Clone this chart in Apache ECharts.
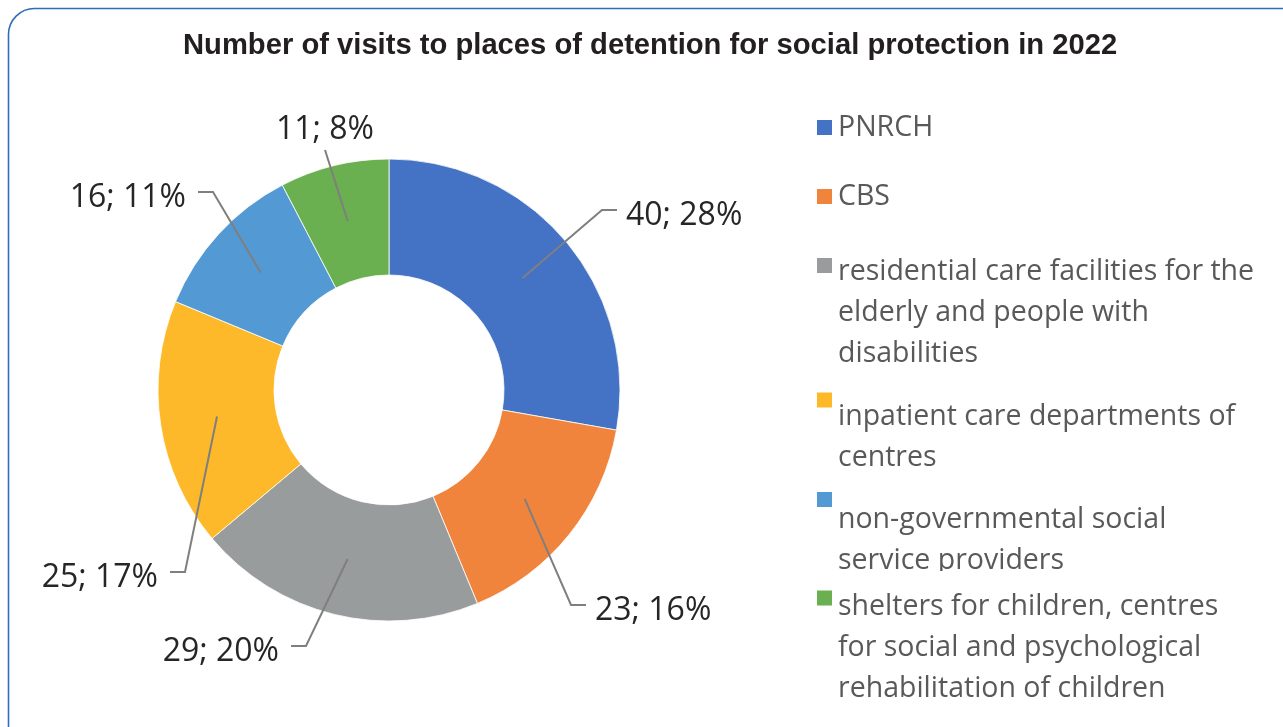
<!DOCTYPE html>
<html>
<head>
<meta charset="utf-8">
<script src="https://cdn.jsdelivr.net/npm/echarts@6/dist/echarts.min.js"></script>
<style>
  html, body { margin: 0; padding: 0; background: #ffffff; }
  #chart { width: 1283px; height: 727px; }
</style>
</head>
<body>
<div id="chart"></div>
<script>
// ---- data ----
const titleText = 'Number of visits to places of detention for social protection in 2022';
const categories = [
  'PNRCH',
  'CBS',
  'residential care facilities for the elderly and people with disabilities',
  'inpatient care departments of centres',
  'non-governmental social service providers',
  'shelters for children, centres for social and psychological rehabilitation of children'
];
const visits = [40, 23, 29, 25, 16, 11];
// legend text broken into lines
const legendLines = [
  ['PNRCH'],
  ['CBS'],
  ['residential care facilities for the', 'elderly and people with', 'disabilities'],
  ['inpatient care departments of', 'centres'],
  ['non-governmental social', 'service providers'],
  ['shelters for children, centres', 'for social and psychological', 'rehabilitation of children']
];

// ---- styling / layout ----
const sliceColors = ['#4472C4', '#F0843C', '#999C9D', '#FDB92A', '#5399D3', '#6AAF50'];
const pieCenter = [389, 390];
const innerR = 115, outerR = 231;
const leaderStartR = 174;       // leader lines start inside the ring
const leaderFoot = 15;          // horizontal foot of each leader line
const textDrop = 5.5;           // side labels sit slightly below their leader foot
// where each value label sits: end of its leader line and side of the label
const labelSpots = [
  { x: 617, y: 210, side: 'right' },
  { x: 586, y: 605, side: 'right' },
  { x: 291, y: 646, side: 'left' },
  { x: 170, y: 572, side: 'left' },
  { x: 198, y: 192, side: 'left' },
  { x: 325, y: 150, side: 'top' }
];
const legendLeft = 815;
const legendTops = [107, 176, 156.5, 321.5, 417.5, 486.5];
// extra space above each legend text so the swatch sits by its first line
const legendLead = [0, 0, 95, 75, 82, 100];
const legendFont = { fontFamily: 'Open Sans', fontSize: 28.5, color: '#595959', lineHeight: 41 };

function labelPadding(side) {
  if (side === 'right') return [0, 0, 0, 9];
  if (side === 'left') return [0, 12, 0, 0];
  return [0, 0, 0, 0];
}

const chart = echarts.init(document.getElementById('chart'), null, { renderer: 'canvas' });

const legends = categories.map(function (name, i) {
  return {
    show: true,
    data: [name],
    left: legendLeft,
    top: legendTops[i],
    orient: 'vertical',
    padding: 0,
    itemWidth: 17,
    itemHeight: 17,
    icon: 'rect',
    selectedMode: false,
    formatter: function (n) {
      const k = categories.indexOf(n);
      const body = legendLines[k].map(function (l) { return '{t|' + l + '}'; }).join('\n');
      return legendLead[k] > 0 ? '{gap| }\n' + body : body;
    },
    textStyle: {
      fontFamily: legendFont.fontFamily,
      fontSize: legendFont.fontSize,
      color: legendFont.color,
      lineHeight: legendFont.lineHeight,
      rich: {
        t: legendFont,
        gap: { fontSize: 1, lineHeight: legendLead[i] || 1 }
      }
    }
  };
});

function sliceData(withColor) {
  return categories.map(function (name, i) {
    return {
      name: name,
      value: visits[i],
      itemStyle: { color: withColor ? sliceColors[i] : 'rgba(0,0,0,0)' },
      label: { padding: labelPadding(labelSpots[i].side) }
    };
  });
}

const option = {
  backgroundColor: '#ffffff',
  animation: false,
  title: {
    text: titleText,
    left: 178,
    top: 26,
    textStyle: {
      fontFamily: 'Liberation Sans, Arial, sans-serif',
      fontWeight: 'bold',
      fontSize: 29.2,
      lineHeight: 30,
      color: '#231F20'
    }
  },
  legend: legends,
  graphic: [
    {
      type: 'rect',
      z: -10,
      silent: true,
      shape: { x: 8.5, y: 8.5, width: 1330, height: 780, r: 26 },
      style: { fill: 'none', stroke: '#2E6DB8', lineWidth: 1.6 }
    },
    {
      // legend line cut short at its lower edge
      type: 'rect',
      z: 100,
      silent: true,
      shape: { x: 834, y: 571, width: 260, height: 17 },
      style: { fill: '#ffffff' }
    }
  ],
  series: [
    {
      // the ring itself
      type: 'pie',
      z: 2,
      center: pieCenter,
      radius: [innerR, outerR],
      startAngle: 90,
      clockwise: true,
      avoidLabelOverlap: false,
      silent: true,
      emphasis: { disabled: true },
      itemStyle: { borderColor: '#ffffff', borderWidth: 0.8 },
      label: { show: false },
      labelLine: { show: false },
      data: sliceData(true)
    },
    {
      // see-through copy on top carrying the value labels and leader lines
      type: 'pie',
      z: 3,
      center: pieCenter,
      radius: [innerR, outerR],
      startAngle: 90,
      clockwise: true,
      avoidLabelOverlap: false,
      silent: true,
      legendHoverLink: false,
      emphasis: { disabled: true },
      itemStyle: { borderWidth: 0 },
      data: sliceData(false),
      label: {
        show: true,
        position: 'outside',
        formatter: function (p) { return p.value + '; ' + Math.round(p.percent) + '%'; },
        fontFamily: 'Open Sans',
        fontSize: 32,
        lineHeight: 40,
        color: '#262626'
      },
      labelLine: {
        show: true,
        length: 20,
        length2: 15,
        smooth: false,
        lineStyle: { color: '#7F7F7F', width: 2 }
      },
      labelLayout: function (params) {
        const spot = labelSpots[params.dataIndex];
        const pts = params.labelLinePoints;
        // radial direction of the slice middle, taken from the default leader line
        const dx = pts[1][0] - pts[0][0];
        const dy = pts[1][1] - pts[0][1];
        const len = Math.sqrt(dx * dx + dy * dy) || 1;
        const inset = outerR - leaderStartR;
        const start = [pts[0][0] - dx / len * inset, pts[0][1] - dy / len * inset];
        const end = [spot.x, spot.y];
        let bend, align, vAlign, ty = spot.y;
        if (spot.side === 'right') {
          bend = [spot.x - leaderFoot, spot.y]; align = 'left'; vAlign = 'middle'; ty += textDrop;
        } else if (spot.side === 'left') {
          bend = [spot.x + leaderFoot, spot.y]; align = 'right'; vAlign = 'middle'; ty += textDrop;
        } else {
          bend = [spot.x, spot.y]; align = 'center'; vAlign = 'bottom';
        }
        return {
          x: spot.x,
          y: ty,
          align: align,
          verticalAlign: vAlign,
          labelLinePoints: [start, bend, end]
        };
      }
    }
  ]
};

chart.setOption(option);
</script>
</body>
</html>
